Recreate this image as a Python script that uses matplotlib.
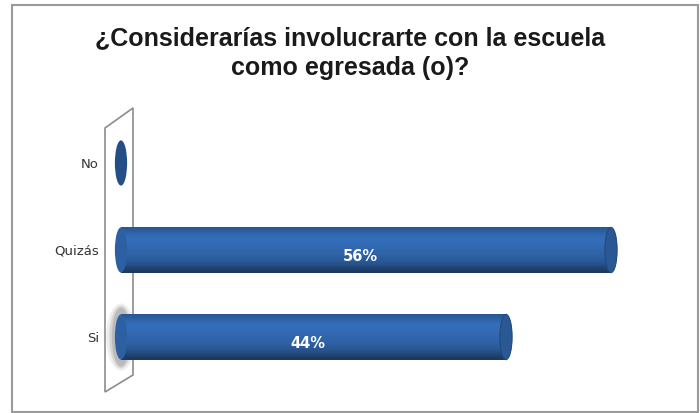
import matplotlib.pyplot as plt
import numpy as np
from matplotlib.patches import Ellipse, Polygon, Rectangle

# Chart data
categories = ['Si', 'Quizás', 'No']
values = [44, 56, 0]
labels = ['44%', '56%', '']
title = '¿Considerarías involucrarte con la escuela\ncomo egresada (o)?'

W, H = 700, 413
fig = plt.figure(figsize=(W / 100, H / 100), dpi=100)
fig.patch.set_facecolor('white')

# outer frame
fig.add_artist(Rectangle((12 / W, 1 - 412 / H), 686 / W, 407 / H,
                         transform=fig.transFigure, fill=False,
                         edgecolor='#9a9a9a', linewidth=1.5, zorder=-2))

# 3D back wall (pixel coords -> figure fraction), kept behind the axes
wall = [(105, 128), (133, 108), (133, 375), (105, 392)]
fig.add_artist(Polygon([(x / W, 1 - y / H) for x, y in wall],
                       closed=True, transform=fig.transFigure,
                       facecolor='white', edgecolor='#8c8c8c',
                       linewidth=1.2, zorder=-1))

ax = fig.add_axes([121 / W, (413 - 380.5) / H, 525 / W, 261 / H])
ax.patch.set_alpha(0)
for s in ax.spines.values():
    s.set_visible(False)
ax.set_xticks([])
ax.set_yticks(range(len(categories)))
ax.set_yticklabels(categories, fontsize=9.5, color='#333333',
                   family='DejaVu Sans')
ax.tick_params(axis='y', length=0, pad=16)

bar_h = 0.52
cap_w = 1.4
rgb = np.array([0x30, 0x66, 0xac]) / 255.0
# shading from top edge to bottom edge of the cylinder
shade = [0.85, 1.0, 1.08, 1.08, 1.04, 1.0, 0.97, 0.92, 0.85, 0.72, 0.55]
tex = np.clip(np.array(shade)[:, None, None] * rgb[None, None, :], 0, 1)

for y, v, lab in zip(range(len(categories)), values, labels):
    if v > 0:
        if y == 0:
            # soft shadow behind the start of the bar
            for k, a in zip([2.4, 1.9, 1.5], [0.15, 0.25, 0.35]):
                ax.add_patch(Ellipse((0, y), cap_w * k, bar_h * (1 + k * 0.2),
                                     facecolor='#8a8a8a', edgecolor='none',
                                     alpha=a, zorder=1, clip_on=False))
        ax.imshow(tex, extent=[0, v, y - bar_h / 2, y + bar_h / 2],
                  aspect='auto', interpolation='bicubic', zorder=2)
        ax.add_patch(Ellipse((0, y), cap_w, bar_h, facecolor='#2d60a2',
                             edgecolor='none', zorder=2, clip_on=False))
        ax.add_patch(Ellipse((v, y), cap_w, bar_h, facecolor='#2a5894',
                             edgecolor='#234a7d', linewidth=0.8, zorder=3))
        ax.text(v / 2 - 0.6, y - 0.08, lab, ha='center', va='center',
                color='white', fontsize=10.5, fontweight='bold', zorder=4)
    else:
        ax.add_patch(Ellipse((0, y), cap_w, bar_h, facecolor='#234f86',
                             edgecolor='none', zorder=3, clip_on=False))

ax.set_xlim(0, 60)
ax.set_ylim(-0.5, 2.5)

fig.text(0.5, 1 - 53 / H, title, ha='center', va='center', fontsize=18,
         fontweight='bold', family='Liberation Sans', color='#1a1a1a',
         linespacing=1.3)

fig.savefig('out.png', dpi=100, facecolor='white')
